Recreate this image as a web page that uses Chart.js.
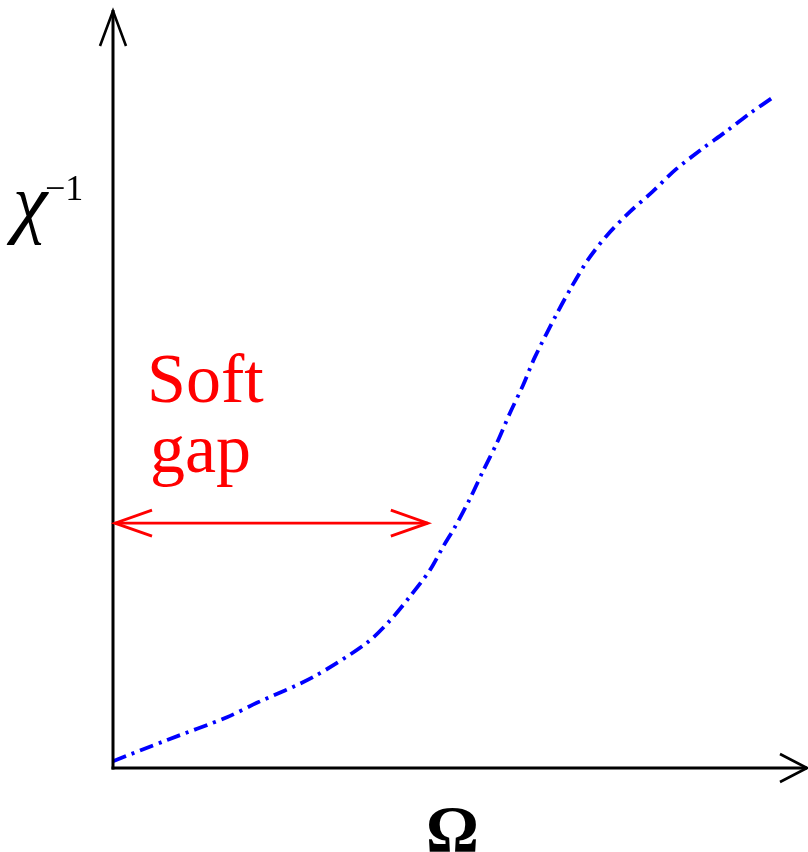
<!DOCTYPE html>
<html>
<head>
<meta charset="utf-8">
<script src="https://cdn.jsdelivr.net/npm/chart.js@4"></script>
<style>
html,body{margin:0;padding:0;background:#fff;}
canvas{display:block;}
</style>
</head>
<body>
<canvas id="c" width="808" height="852"></canvas>
<script>
// Data (Ω in arbitrary units 0..10, χ^-1 in arbitrary units 0..10)
const omega  = [0, 0.78, 1.64, 2.07, 2.88, 3.65, 3.99, 4.27, 4.56, 4.75, 4.92, 5.14, 5.32, 5.53, 5.71, 5.90, 6.07, 6.39, 6.60, 6.83, 7.11, 7.44, 7.76, 8.09, 8.45, 8.81, 9.17, 9.50];
const chiInv = [0.09, 0.37, 0.67, 0.86, 1.20, 1.65, 1.95, 2.26, 2.61, 2.92, 3.18, 3.56, 3.91, 4.30, 4.68, 5.05, 5.42, 6.00, 6.35, 6.70, 7.03, 7.34, 7.60, 7.89, 8.15, 8.39, 8.64, 8.85];
const gapArrowX = [0, 4.53];
const gapArrowY = 3.23;
const gapLabel = ['Soft', 'gap'];
const xLabel = 'Ω';
const yLabel = 'χ';
const yLabelSup = '−1';

const points = omega.map((x, i) => ({x: x, y: chiInv[i]}));

function arrowHead(ctx, tx, ty, dx, dy, len, half) {
  const bx = tx - dx * len, by = ty - dy * len;
  const px = -dy, py = dx;
  ctx.beginPath();
  ctx.moveTo(bx + px * half, by + py * half);
  ctx.lineTo(tx, ty);
  ctx.lineTo(bx - px * half, by - py * half);
  ctx.stroke();
}

const decor = {
  id: 'decor',
  afterDatasetsDraw(chart) {
    const ctx = chart.ctx;
    const xs = chart.scales.x, ys = chart.scales.y;
    const ca = chart.chartArea;
    ctx.save();
    // axes
    ctx.strokeStyle = '#000';
    ctx.lineWidth = 3;
    ctx.lineCap = 'butt';
    ctx.beginPath();
    ctx.moveTo(ca.left, ca.bottom + 1.5);
    ctx.lineTo(ca.left, ca.top);
    ctx.stroke();
    ctx.beginPath();
    ctx.moveTo(ca.left - 1.5, ca.bottom);
    ctx.lineTo(ca.right - 1, ca.bottom);
    ctx.stroke();
    ctx.lineWidth = 2.6;
    arrowHead(ctx, ca.left, ca.top + 1, 0, -1, 35, 13);
    arrowHead(ctx, ca.right - 1, ca.bottom, 1, 0, 27, 14);

    // soft gap arrow
    const ax0 = xs.getPixelForValue(gapArrowX[0]) + 2;
    const ax1 = xs.getPixelForValue(gapArrowX[1]);
    const ay = ys.getPixelForValue(gapArrowY);
    ctx.strokeStyle = '#ff0000';
    ctx.lineWidth = 2.8;
    ctx.beginPath();
    ctx.moveTo(ax0, ay);
    ctx.lineTo(ax1, ay);
    ctx.stroke();
    arrowHead(ctx, ax0, ay, -1, 0, 37, 13);
    arrowHead(ctx, ax1, ay, 1, 0, 37, 13);

    // texts
    ctx.fillStyle = '#ff0000';
    ctx.font = '70px "Liberation Serif"';
    ctx.textBaseline = 'alphabetic';
    ctx.textAlign = 'left';
    ctx.fillText(gapLabel[0], 147, 402);
    ctx.fillText(gapLabel[1], 150, 472);

    ctx.fillStyle = '#000';
    ctx.font = 'italic 78px "Liberation Serif"';
    ctx.fillText(yLabel, 13, 228);
    ctx.font = '36px "Liberation Serif"';
    ctx.fillText(yLabelSup, 45, 200);

    ctx.font = 'bold 66px "Liberation Serif"';
    ctx.fillText(xLabel, 426, 851);
    ctx.restore();
  }
};

new Chart(document.getElementById('c'), {
  type: 'line',
  data: {
    datasets: [{
      data: points,
      borderColor: '#0000ff',
      borderWidth: 3.8,
      borderDash: [14, 6, 3, 6],
      pointRadius: 0,
      fill: false,
      tension: 0.3,
      clip: false
    }]
  },
  options: {
    responsive: false,
    animation: false,
    events: [],
    layout: {padding: {left: 113, right: 0, top: 10, bottom: 84}},
    plugins: {legend: {display: false}, tooltip: {enabled: false}},
    scales: {
      x: {type: 'linear', min: 0, max: 10, display: false},
      y: {type: 'linear', min: 0, max: 10, display: false}
    }
  },
  plugins: [decor]
});
</script>
</body>
</html>
